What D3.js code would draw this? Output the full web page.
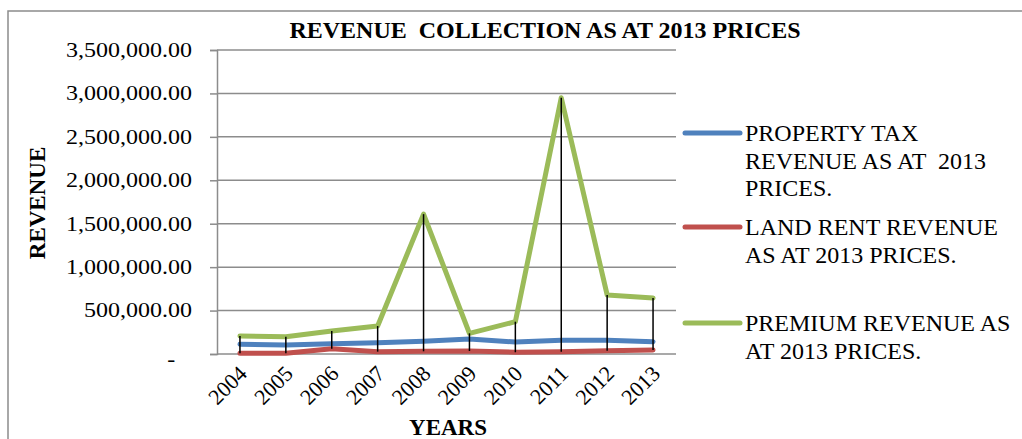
<!DOCTYPE html>
<html>
<head>
<meta charset="utf-8">
<script src="https://cdn.jsdelivr.net/npm/d3@7"></script>
<style>
  body { margin: 0; background: #fff; }
  svg text { font-family: "Liberation Serif", "Times New Roman", serif; fill: #000; }
</style>
</head>
<body>
<div id="chart"></div>
<script>
const years = ["2004", "2005", "2006", "2007", "2008", "2009", "2010", "2011", "2012", "2013"];

const propertyTax = [112000, 104000, 119000, 130000, 146000, 173000, 138000, 158000, 158000, 142000];
const landRent = [8000, 8000, 61000, 27000, 31000, 35000, 20000, 27000, 38000, 46000];
const premium = [207000, 199000, 265000, 322000, 1610000, 238000, 372000, 2950000, 680000, 645000];

const yTicks = [0, 500000, 1000000, 1500000, 2000000, 2500000, 3000000, 3500000];
const yTickLabels = ["-", "500,000.00", "1,000,000.00", "1,500,000.00", "2,000,000.00",
  "2,500,000.00", "3,000,000.00", "3,500,000.00"];

const seriesLabels = [
  ["PROPERTY TAX", "REVENUE AS AT  2013", "PRICES."],
  ["LAND RENT REVENUE", "AS AT 2013 PRICES."],
  ["PREMIUM REVENUE AS", "AT 2013 PRICES."],
];

const series = [
  { values: propertyTax, color: "#4f81bd", label: seriesLabels[0] },
  { values: landRent, color: "#c0504d", label: seriesLabels[1] },
  { values: premium, color: "#9bbb59", label: seriesLabels[2] },
];

const W = 1022, H = 439;
const margin = { top: 50, right: 346, bottom: 85, left: 217 };
const width = W - margin.left - margin.right;
const height = H - margin.top - margin.bottom;

const svg = d3.select("#chart").append("svg")
  .attr("width", W).attr("height", H);

// outer frame of the chart object
svg.append("rect")
  .attr("x", 8).attr("y", 11)
  .attr("width", W + 20).attr("height", H + 20)
  .attr("fill", "none").attr("stroke", "#8c8c8c").attr("stroke-width", 1.5);

svg.append("text")
  .attr("x", 545).attr("y", 38)
  .attr("text-anchor", "middle")
  .attr("font-size", 24).attr("font-weight", "bold")
  .style("white-space", "pre")
  .text("REVENUE  COLLECTION AS AT 2013 PRICES");

const g = svg.append("g").attr("transform", `translate(${margin.left},${margin.top})`);

const x = d3.scalePoint().domain(years).range([0, width]).padding(0.5);
const y = d3.scaleLinear().domain([0, 3500000]).range([height, 0]);

// gridlines
g.append("g").selectAll("line").data(yTicks).join("line")
  .attr("x1", 0).attr("x2", width)
  .attr("y1", d => y(d)).attr("y2", d => y(d))
  .attr("stroke", "#8c8c8c").attr("stroke-width", 1.5);

// y axis
const yAxis = g.append("g")
  .call(d3.axisLeft(y).tickValues(yTicks).tickSize(7).tickPadding(18)
    .tickFormat((d, i) => yTickLabels[i]));
yAxis.select(".domain").attr("stroke", "#8c8c8c").attr("stroke-width", 1.5);
yAxis.selectAll(".tick line").attr("stroke", "#8c8c8c").attr("stroke-width", 1.5);
yAxis.selectAll(".tick text")
  .attr("font-size", 20).attr("font-family", null)
  .attr("transform", "scale(1.2,1)")
  .attr("x", -25 / 1.2)
  .attr("dx", d => d === 0 ? "-0.7em" : 0)
  .attr("dy", d => d === 0 ? "0.55em" : "0.32em");

// x axis labels, rotated
const xAxis = g.append("g").attr("transform", `translate(0,${height})`)
  .call(d3.axisBottom(x).tickSize(0).tickPadding(0));
xAxis.select(".domain").remove();
xAxis.selectAll(".tick text")
  .attr("font-size", 22).attr("font-family", null)
  .attr("text-anchor", "end")
  .attr("transform", "translate(-3,10) rotate(-45)")
  .attr("y", 0).attr("dy", "0.7em");

// series lines
const line = d3.line().x((d, i) => x(years[i])).y(d => y(d));
g.append("g").selectAll("path").data(series).join("path")
  .attr("d", d => line(d.values))
  .attr("fill", "none")
  .attr("stroke", d => d.color)
  .attr("stroke-width", 5)
  .attr("stroke-linejoin", "round")
  .attr("stroke-linecap", "round");

// high-low lines
g.append("g").selectAll("line").data(years).join("line")
  .attr("x1", d => x(d)).attr("x2", d => x(d))
  .attr("y1", (d, i) => y(d3.max(series, s => s.values[i])))
  .attr("y2", (d, i) => y(d3.min(series, s => s.values[i])))
  .attr("stroke", "#000").attr("stroke-width", 1.5);

// axis titles
svg.append("text")
  .attr("transform", "translate(45,203) rotate(-90)")
  .attr("text-anchor", "middle")
  .attr("font-size", 23).attr("font-weight", "bold")
  .text("REVENUE");

svg.append("text")
  .attr("x", 448).attr("y", 435)
  .attr("text-anchor", "middle")
  .attr("font-size", 23).attr("font-weight", "bold")
  .text("YEARS");

// legend
const legendTop = [133, 227, 323];
const legend = svg.append("g").selectAll("g").data(series).join("g")
  .attr("transform", (d, i) => `translate(685,${legendTop[i]})`);
legend.append("line")
  .attr("x1", 0).attr("x2", 55)
  .attr("stroke", d => d.color).attr("stroke-width", 5)
  .attr("stroke-linecap", "round");
legend.append("text")
  .attr("x", 60).attr("y", 8)
  .attr("font-size", 24)
  .style("white-space", "pre")
  .selectAll("tspan").data(d => d.label).join("tspan")
  .attr("x", 60).attr("dy", (d, i) => i === 0 ? 0 : 27.5)
  .text(d => d);
</script>
</body>
</html>
